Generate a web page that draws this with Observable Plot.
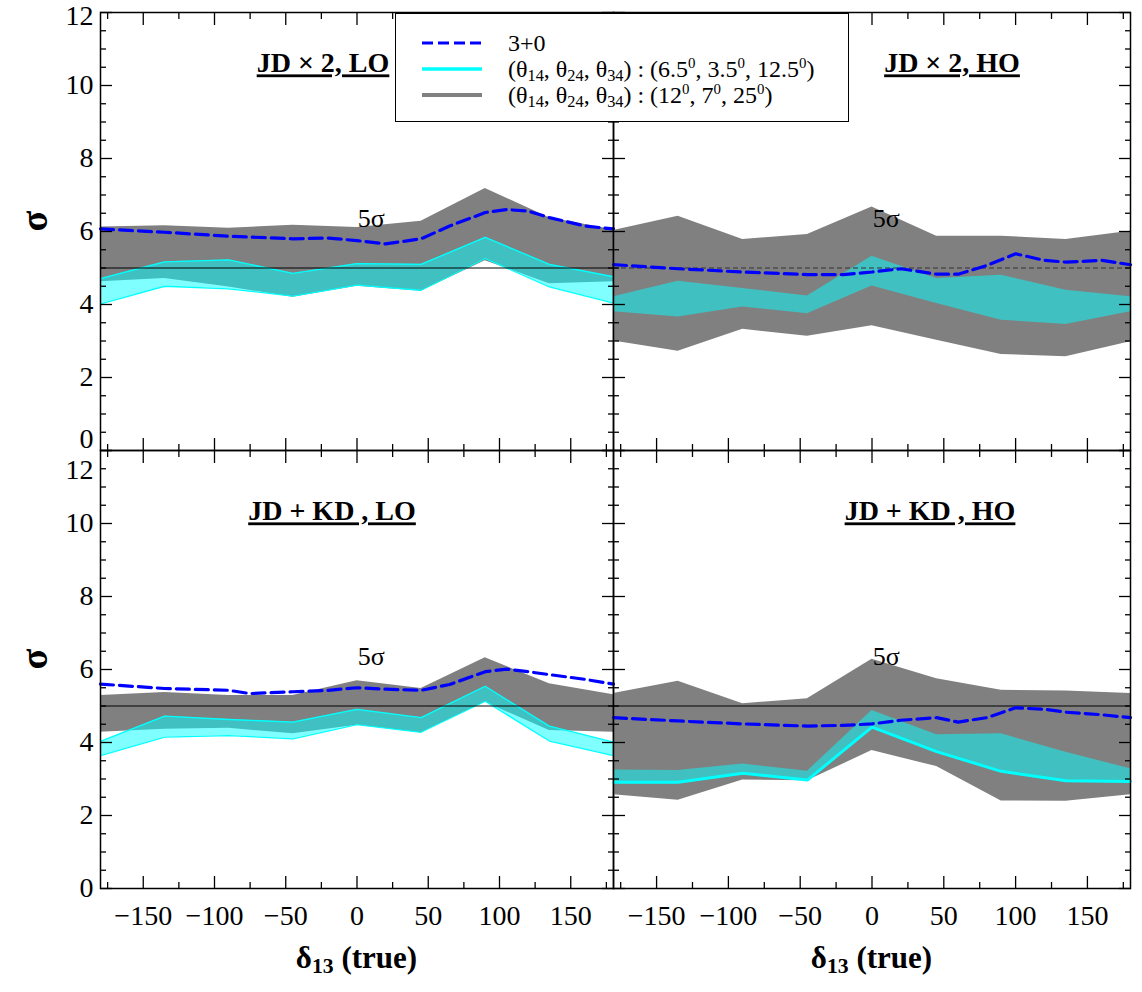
<!DOCTYPE html>
<html>
<head>
<meta charset="utf-8">
<script src="https://cdn.jsdelivr.net/npm/d3@7"></script>
<script src="https://cdn.jsdelivr.net/npm/@observablehq/plot@0.6"></script>
<style>
  body { margin: 0; background: #fff; }
  #wrap { position: relative; width: 1142px; height: 992px; font-family: "Liberation Serif", "Times New Roman", serif; color: #000; }
  .panel { position: absolute; }
  .panel svg { overflow: visible; }
  .panel svg text { font-family: "Liberation Serif", "Times New Roman", serif !important; }
  #legend { position: absolute; left: 395px; top: 13px; width: 452px; height: 107px; border: 1px solid #000; background: #fff; z-index: 5; }
  .lrow { position: absolute; left: 0; height: 26px; width: 452px; }
  .lrow svg { position: absolute; left: 26px; top: 0; }
  .lrow span { position: absolute; left: 112px; top: 0; font-size: 24px; line-height: 26px; white-space: nowrap; }
  sub { font-size: 0.68em; vertical-align: -0.22em; line-height: 0; }
  sup { font-size: 0.62em; vertical-align: 0.6em; line-height: 0; }
  .xtitle { position: absolute; top: 938px; font-size: 31px; font-weight: bold; text-align: center; line-height: 40px; }
  .xtitle sub { font-size: 0.7em; vertical-align: -0.25em; }
</style>
</head>
<body>
<div id="wrap"></div>
<script>
// ---------------- data ----------------
const bandX = [-180, -135, -90, -45, 0, 45, 90, 135, 180];

// JD x 2, LO
const grayUpTL = [6.12, 6.16, 6.09, 6.17, 6.11, 6.28, 7.18, 6.38, 6.05];
const grayDnTL = [4.62, 4.71, 4.48, 4.20, 4.50, 4.36, 5.20, 4.57, 4.62];
const cyanUpTL = [4.71, 5.17, 5.22, 4.85, 5.12, 5.10, 5.84, 5.10, 4.76];
const cyanDnTL = [4.02, 4.50, 4.43, 4.23, 4.53, 4.39, 5.26, 4.48, 4.04];
const blueXTL = [-180, -135, -90, -45, -20, 0, 20, 45, 65, 90, 105, 120, 135, 160, 180];
const blueYTL = [6.07, 5.98, 5.87, 5.80, 5.82, 5.75, 5.66, 5.80, 6.15, 6.52, 6.60, 6.56, 6.38, 6.15, 6.07];

// JD x 2, HO
const grayUpTR = [6.03, 6.42, 5.78, 5.92, 6.67, 5.87, 5.87, 5.78, 6.01];
const grayDnTR = [3.00, 2.72, 3.32, 3.13, 3.42, 3.02, 2.63, 2.57, 2.98];
const cyanUpTR = [4.21, 4.64, 4.44, 4.23, 5.32, 4.71, 4.80, 4.39, 4.21];
const cyanDnTR = [3.80, 3.66, 3.93, 3.75, 4.51, 4.03, 3.57, 3.45, 3.80];
const blueXTR = [-180, -135, -90, -45, -20, 0, 20, 45, 60, 80, 100, 120, 135, 160, 180];
const blueYTR = [5.09, 4.98, 4.89, 4.82, 4.82, 4.89, 4.98, 4.83, 4.83, 5.07, 5.39, 5.21, 5.16, 5.21, 5.09];

// JD + KD, LO
const grayUpBL = [5.29, 5.37, 5.29, 5.29, 5.69, 5.48, 6.32, 5.61, 5.31];
const grayDnBL = [4.28, 4.36, 4.39, 4.24, 4.47, 4.27, 5.10, 4.33, 4.28];
const cyanUpBL = [4.03, 4.72, 4.63, 4.56, 4.91, 4.68, 5.54, 4.45, 4.01];
const cyanDnBL = [3.64, 4.15, 4.19, 4.10, 4.49, 4.28, 5.13, 4.04, 3.64];
const blueXBL = [-180, -135, -90, -75, -45, -20, 0, 20, 45, 65, 90, 105, 120, 135, 160, 180];
const blueYBL = [5.60, 5.48, 5.43, 5.34, 5.39, 5.43, 5.50, 5.46, 5.43, 5.59, 5.94, 6.01, 5.94, 5.86, 5.73, 5.60];

// JD + KD, HO
const grayUpBR = [5.34, 5.68, 5.06, 5.20, 6.28, 5.75, 5.43, 5.41, 5.34];
const grayDnBR = [2.57, 2.42, 2.97, 2.95, 3.78, 3.34, 2.40, 2.39, 2.57];
const cyanUpBR = [3.25, 3.23, 3.41, 3.21, 4.88, 4.21, 4.24, 3.73, 3.28];
const cyanDnBR = [2.91, 2.91, 3.16, 2.97, 4.42, 3.75, 3.21, 2.95, 2.93];
const blueXBR = [-180, -135, -90, -45, -20, 0, 20, 45, 60, 80, 100, 120, 135, 160, 180];
const blueYBR = [4.68, 4.59, 4.51, 4.45, 4.47, 4.51, 4.61, 4.68, 4.56, 4.68, 4.95, 4.91, 4.83, 4.76, 4.68];

const panelTitles = ["JD × 2, LO", "JD × 2, HO", "JD + KD , LO", "JD + KD , HO"];
const xMajorTicks = [-150, -100, -50, 0, 50, 100, 150];
const xMinorTicks = [-175, -125, -75, -25, 25, 75, 125, 175];
const yMajorTicks = [0, 2, 4, 6, 8, 10, 12];
const yMinorTicks = d3.range(0.5, 12, 0.5).filter(d => d % 2 !== 0);
const sigmaLevel = 5;
const sigmaLabel = "5σ";
const sigmaLabelX = 10, sigmaLabelY = 6.35;
const legendLabels = [
  "3+0",
  "(θ<sub>14</sub>, θ<sub>24</sub>, θ<sub>34</sub>) : (6.5<sup>0</sup>, 3.5<sup>0</sup>, 12.5<sup>0</sup>)",
  "(θ<sub>14</sub>, θ<sub>24</sub>, θ<sub>34</sub>) : (12<sup>0</sup>, 7<sup>0</sup>, 25<sup>0</sup>)"
];
const yTitle = "σ";
const xTitle = "δ<sub>13</sub> (true)";

// ---------------- helpers ----------------
const band = (up, dn, cu, cd) => bandX.map((x, i) => ({x, gu: up[i], gd: dn[i], cu: cu[i], cd: cd[i]}));
const series = (xs, ys) => xs.map((x, i) => ({x, y: ys[i]}));
const fmt = d => d < 0 ? "\u2212" + (-d) : String(d);
const SERIF = '"Liberation Serif", "Times New Roman", serif';

function tickMarks() {
  const o = {fill: "none", label: null, stroke: "black", strokeWidth: 1.3};
  return [
    Plot.axisX({...o, anchor: "bottom", ticks: xMajorTicks, tickSize: 12, dy: -12}),
    Plot.axisX({...o, anchor: "bottom", ticks: xMinorTicks, tickSize: 6, dy: -6}),
    Plot.axisX({...o, anchor: "top", ticks: xMajorTicks, tickSize: 12, dy: 12}),
    Plot.axisX({...o, anchor: "top", ticks: xMinorTicks, tickSize: 6, dy: 6}),
    Plot.axisY({...o, anchor: "left", ticks: yMajorTicks, tickSize: 12, dx: 12}),
    Plot.axisY({...o, anchor: "left", ticks: yMinorTicks, tickSize: 6, dx: 6}),
    Plot.axisY({...o, anchor: "right", ticks: yMajorTicks, tickSize: 12, dx: -12}),
    Plot.axisY({...o, anchor: "right", ticks: yMinorTicks, tickSize: 6, dx: -6})
  ];
}

function makePanel(cfg) {
  const b = band(cfg.up, cfg.dn, cfg.cu, cfg.cd);
  const marks = [
    Plot.areaY(b, {x: "x", y1: "gd", y2: "gu", fill: "#808080", curve: "linear"}),
    Plot.areaY(b, {x: "x", y1: "cd", y2: "cu", fill: "#00ffff", fillOpacity: 0.5, curve: "linear"})
  ];
  if (cfg.edgeUp) marks.push(Plot.line(b, {x: "x", y: "cu", stroke: "#00ffff", strokeWidth: cfg.edgeUp}));
  if (cfg.edgeDn) marks.push(Plot.line(b, {x: "x", y: "cd", stroke: "#00ffff", strokeWidth: cfg.edgeDn}));
  marks.push(
    Plot.ruleY([sigmaLevel], {stroke: cfg.refDash ? "#333" : "#000", strokeWidth: 1.2, strokeDasharray: cfg.refDash || null}),
    Plot.line(series(cfg.bx, cfg.by), {x: "x", y: "y", stroke: "#0000ff", strokeWidth: 3.2, strokeDasharray: "13,6"}),
    Plot.text([sigmaLabel], {x: sigmaLabelX, y: sigmaLabelY, fontSize: 26, fill: "#000"}),
    Plot.text([cfg.title], {frameAnchor: "top", dx: cfg.tdx, dy: cfg.tdy, fontSize: 28, fontWeight: "bold", fill: "#000"}),
    ...tickMarks()
  );
  if (cfg.left) {
    marks.push(
      Plot.axisY({anchor: "left", ticks: cfg.yLabelsMain, tickSize: 0, tickPadding: 7, fontSize: 28, label: null, tickFormat: fmt}),
      Plot.axisY({anchor: "left", ticks: cfg.yLabelsShift, tickSize: 0, tickPadding: 7, fontSize: 28, label: null, tickFormat: fmt, dy: cfg.yShift}),
      Plot.axisY({anchor: "left", ticks: cfg.yLabelsShift2, tickSize: 0, tickPadding: 7, fontSize: 28, label: null, tickFormat: fmt, dy: cfg.yShift2}),
      Plot.text([yTitle], {frameAnchor: "left", dx: -66, rotate: -90, fontSize: 38, fontWeight: "bold", fill: "#000"})
    );
  }
  if (cfg.bottom) {
    marks.push(Plot.axisX({anchor: "bottom", ticks: xMajorTicks, tickSize: 0, tickPadding: 17, fontSize: 28, label: null, tickFormat: fmt}));
  }
  marks.push(Plot.frame({stroke: "#000", strokeWidth: 1.5}));
  const svg = Plot.plot({
    width: cfg.w, height: cfg.h,
    marginLeft: cfg.mL, marginRight: cfg.mR, marginTop: cfg.mT, marginBottom: cfg.mB,
    x: {domain: [-180, 180]},
    y: {domain: [0, 12]},
    style: {fontFamily: SERIF, background: "transparent", color: "#000", overflow: "visible"},
    marks
  });
  const sel = d3.select(svg);
  sel.selectAll("g, text").style("font-family", SERIF).style("font-variant", "normal");
  sel.selectAll("text").filter(function () { return panelTitles.includes(this.textContent); })
    .style("text-decoration", "underline")
    .style("text-decoration-thickness", "2.5px")
    .style("text-underline-offset", "4px");
  const div = document.createElement("div");
  div.className = "panel";
  div.style.left = cfg.px + "px";
  div.style.top = cfg.py + "px";
  div.appendChild(svg);
  document.getElementById("wrap").appendChild(div);
}

makePanel({px: 0, py: 0, w: 614, h: 452, mL: 100, mR: 1, mT: 12, mB: 2,
  up: grayUpTL, dn: grayDnTL, cu: cyanUpTL, cd: cyanDnTL, bx: blueXTL, by: blueYTL,
  title: panelTitles[0], tdx: -34, tdy: 40, edgeUp: 1.3, edgeDn: 1.3,
  left: true, yLabelsMain: [2, 4, 6, 8, 10], yLabelsShift: [0], yShift: -11, yLabelsShift2: [12], yShift2: 4});
makePanel({px: 612, py: 0, w: 530, h: 452, mL: 1, mR: 12, mT: 12, mB: 2,
  up: grayUpTR, dn: grayDnTR, cu: cyanUpTR, cd: cyanDnTR, bx: blueXTR, by: blueYTR,
  title: panelTitles[1], tdx: 80, tdy: 40, refDash: "5,3"});
makePanel({px: 0, py: 448, w: 614, h: 544, mL: 100, mR: 1, mT: 2, mB: 104,
  up: grayUpBL, dn: grayDnBL, cu: cyanUpBL, cd: cyanDnBL, bx: blueXBL, by: blueYBL,
  title: panelTitles[2], tdx: -25, tdy: 50, edgeUp: 1.3, edgeDn: 1.3,
  left: true, bottom: true, yLabelsMain: [0, 2, 4, 6, 8, 10], yLabelsShift: [12], yShift: 20, yLabelsShift2: [], yShift2: 0});
makePanel({px: 612, py: 448, w: 530, h: 544, mL: 1, mR: 12, mT: 2, mB: 104,
  up: grayUpBR, dn: grayDnBR, cu: cyanUpBR, cd: cyanDnBR, bx: blueXBR, by: blueYBR,
  title: panelTitles[3], tdx: 58, tdy: 50, edgeDn: 3, bottom: true});

// ---------------- legend ----------------
const wrap = document.getElementById("wrap");
const legend = document.createElement("div");
legend.id = "legend";
const legendStyles = [
  {stroke: "#0000ff", width: 3, dash: "11,5"},
  {stroke: "#00ffff", width: 3.5, dash: null},
  {stroke: "#808080", width: 4, dash: null}
];
legendLabels.forEach((lab, i) => {
  const row = document.createElement("div");
  row.className = "lrow";
  row.style.top = (16 + i * 26) + "px";
  const s = legendStyles[i];
  row.innerHTML = `<svg width="62" height="26"><line x1="0" x2="60" y1="13" y2="13" stroke="${s.stroke}" stroke-width="${s.width}" ${s.dash ? `stroke-dasharray="${s.dash}"` : ""}/></svg><span>${lab}</span>`;
  legend.appendChild(row);
});
wrap.appendChild(legend);

// ---------------- x titles ----------------
[[100, 513], [613, 517]].forEach(([l, w]) => {
  const t = document.createElement("div");
  t.className = "xtitle";
  t.style.left = l + "px";
  t.style.width = w + "px";
  t.innerHTML = xTitle;
  wrap.appendChild(t);
});
</script>
</body>
</html>
